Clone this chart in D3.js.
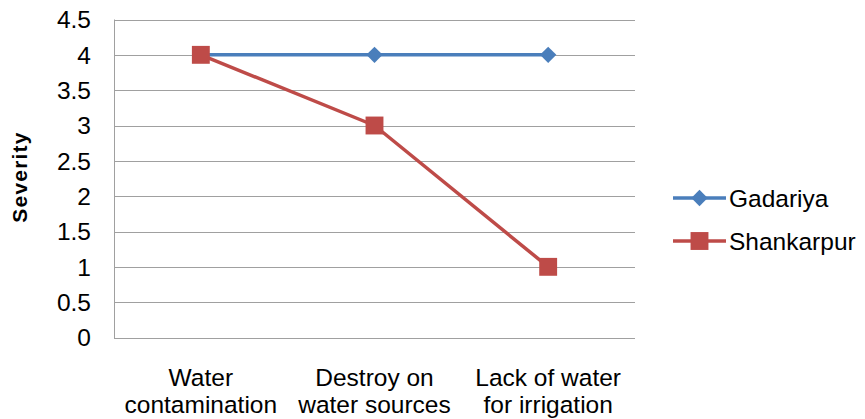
<!DOCTYPE html>
<html><head><meta charset="utf-8">
<script src="https://cdn.jsdelivr.net/npm/d3@7"></script>
<style>body{margin:0;background:#fff}svg{display:block}text{font-family:"Liberation Sans",Arial,sans-serif;fill:#000}</style>
</head><body>
<script>
const categories = [["Water","contamination"],["Destroy on","water sources"],["Lack of water","for irrigation"]];
const gadariya = [4, 4, 4];
const shankarpur = [4, 3, 1];
const yTicks = [0, 0.5, 1, 1.5, 2, 2.5, 3, 3.5, 4, 4.5];
const seriesNames = ["Gadariya", "Shankarpur"];

const W = 865, H = 419;
const L = 114, R = 635, T = 19.5, B = 337.5;
const svg = d3.select("body").append("svg").attr("width", W).attr("height", H);
const x = d3.scaleBand().domain(d3.range(categories.length)).range([L, R]).padding(0);
const y = d3.scaleLinear().domain([0, 4.5]).range([B, T]);
const fs = 24.5;

// gridlines
svg.append("g").selectAll("line").data(yTicks).join("line")
  .attr("x1", L).attr("x2", R).attr("y1", d => Math.round(y(d)) + 0.5).attr("y2", d => Math.round(y(d)) + 0.5)
  .attr("stroke", "#a0a0a0").attr("stroke-width", 1);
// left axis line
svg.append("line").attr("x1", L + 0.5).attr("x2", L + 0.5).attr("y1", T).attr("y2", B + 0.5).attr("stroke", "#a0a0a0");

// y tick labels
svg.append("g").selectAll("text").data(yTicks).join("text")
  .attr("x", 91).attr("y", d => y(d)).attr("dy", "0.36em").attr("text-anchor", "end")
  .attr("font-size", fs).text(d => d);

// category labels
const cg = svg.append("g").selectAll("text").data(categories).join("text")
  .attr("text-anchor", "middle").attr("font-size", fs);
cg.each(function(d, i) {
  const t = d3.select(this);
  d.forEach((s, j) => t.append("tspan").attr("x", x(i) + x.bandwidth() / 2).attr("y", 386 + j * 27).text(s));
});

// y title
svg.append("text").attr("transform", "translate(27,177) rotate(-90)").attr("text-anchor", "middle")
  .attr("font-size", 21).attr("font-weight", "bold").attr("letter-spacing", 1.2).text("Severity");

const cx = i => x(i) + x.bandwidth() / 2;
const line = d3.line().x((d, i) => cx(i)).y(d => y(d));
const colors = ["#4a7ebb", "#be4b48"];
const data = [gadariya, shankarpur];
const diamond = d3.symbol().type(d3.symbolDiamond2).size(170);
const square = d3.symbol().type(d3.symbolSquare).size(320);
const symbols = [diamond, square];

data.forEach((vals, k) => {
  svg.append("path").attr("d", line(vals)).attr("fill", "none").attr("stroke", colors[k]).attr("stroke-width", 3.5).attr("stroke-linejoin", "round");
  svg.append("g").selectAll("path").data(vals).join("path")
    .attr("transform", (d, i) => `translate(${cx(i)},${y(d)})`)
    .attr("d", symbols[k]()).attr("fill", colors[k]);
});

// legend
const ly = [198, 241];
seriesNames.forEach((n, k) => {
  svg.append("line").attr("x1", 673).attr("x2", 726).attr("y1", ly[k]).attr("y2", ly[k]).attr("stroke", colors[k]).attr("stroke-width", 3.5);
  svg.append("path").attr("transform", `translate(699.5,${ly[k]})`).attr("d", symbols[k]()).attr("fill", colors[k]);
  svg.append("text").attr("x", 729).attr("y", ly[k]).attr("dy", "0.36em").attr("font-size", fs).text(n);
});
</script>
</body></html>
